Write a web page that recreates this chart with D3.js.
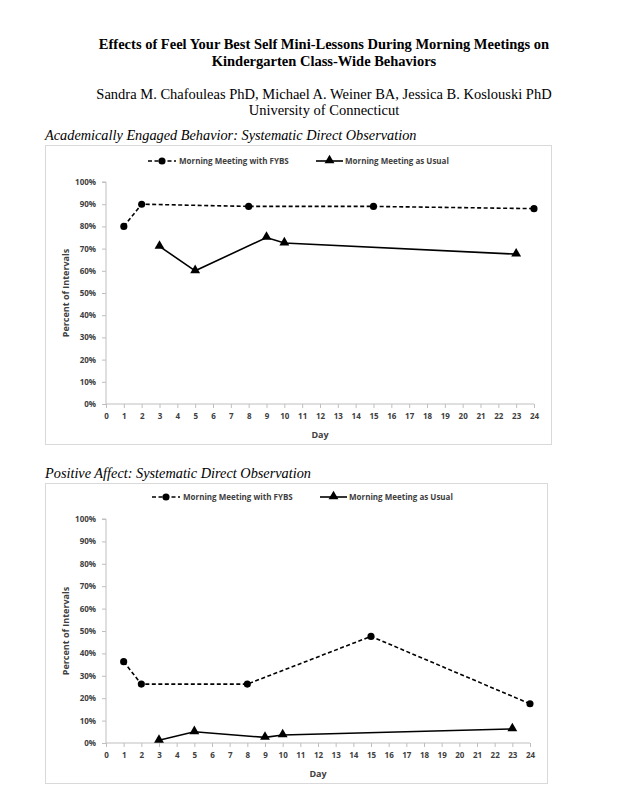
<!DOCTYPE html>
<html>
<head>
<meta charset="utf-8">
<script src="https://cdn.jsdelivr.net/npm/d3@7"></script>
<style>
  body { margin: 0; background: #fff; }
  svg { display: block; }
</style>
</head>
<body>
<div id="anchor-point"></div>
<script>
// data
const days_fybs_engaged = [1, 2, 8, 15, 24];
const vals_fybs_engaged = [80, 90, 89, 89, 88];
const days_usual_engaged = [3, 5, 9, 10, 23];
const vals_usual_engaged = [71, 60, 75, 72.5, 67.5];

const days_fybs_affect = [1, 2, 8, 15, 24];
const vals_fybs_affect = [36.3, 26.3, 26.3, 47.6, 17.5];
const days_usual_affect = [3, 5, 9, 10, 23];
const vals_usual_affect = [1.2, 5, 2.5, 3.6, 6.3];

const x_ticks = d3.range(0, 25); // 0..24
const y_ticks = [0, 10, 20, 30, 40, 50, 60, 70, 80, 90, 100];
const series_names = ["Morning Meeting with FYBS", "Morning Meeting as Usual"];

const width = 621, height = 805;
const grey = "#bfbfbf";
const label_color = "#404040";
const sans = "'Open Sans', Lato, sans-serif";
const serif = "'Liberation Serif', 'DejaVu Serif', serif";

const svg = d3.select("#anchor-point")
  .append("svg")
  .attr("width", width)
  .attr("height", height);

//// header text ////
const header = [
  { t: "Effects of Feel Your Best Self Mini-Lessons During Morning Meetings on", y: 49, w: "bold" },
  { t: "Kindergarten Class-Wide Behaviors", y: 66, w: "bold" },
  { t: "Sandra M. Chafouleas PhD, Michael A. Weiner BA, Jessica B. Koslouski PhD", y: 99, w: "normal" },
  { t: "University of Connecticut", y: 115, w: "normal" }
];
svg.selectAll(".head")
  .data(header)
  .enter()
  .append("text")
  .attr("class", "head")
  .attr("x", 324)
  .attr("y", d => d.y)
  .attr("text-anchor", "middle")
  .attr("font-family", serif)
  .attr("font-size", 14.5)
  .attr("font-weight", d => d.w)
  .attr("fill", "#000")
  .text(d => d.t);

//// one chart ////
function drawChart(opt) {
  const g = svg.append("g");

  g.append("text")
    .attr("x", 45)
    .attr("y", opt.titleY)
    .attr("font-family", serif)
    .attr("font-style", "italic")
    .attr("font-size", 14.3)
    .text(opt.title);

  // chart box
  g.append("rect")
    .attr("x", opt.box[0] + 0.5)
    .attr("y", opt.box[1] + 0.5)
    .attr("width", opt.box[2] - opt.box[0])
    .attr("height", opt.box[3] - opt.box[1])
    .attr("fill", "none")
    .attr("stroke", "#d9d9d9")
    .attr("stroke-width", 1);

  const x = d3.scaleLinear().domain([0, 24]).range([opt.x0, opt.x1]);
  const y = d3.scaleLinear().domain([0, 100]).range([opt.y0, opt.y1]);

  // y axis
  const yAxis = g.append("g")
    .attr("transform", `translate(${opt.x0},0)`)
    .call(d3.axisLeft(y).tickValues(y_ticks).tickSize(4).tickPadding(6).tickFormat(d => d + "%"));
  // x axis
  const xAxis = g.append("g")
    .attr("transform", `translate(0,${opt.y0})`)
    .call(d3.axisBottom(x).tickValues(x_ticks).tickSize(4).tickPadding(4));

  [yAxis, xAxis].forEach(a => {
    a.select(".domain").attr("stroke", grey);
    a.selectAll(".tick line").attr("stroke", grey);
    a.selectAll("text")
      .attr("font-family", sans)
      .attr("font-size", 8)
      .attr("font-weight", "bold")
      .attr("fill", label_color);
  });
  // plain domain lines without end caps
  yAxis.select(".domain").attr("d", `M-4,${opt.y1}H0V${opt.y0}`);
  xAxis.select(".domain").attr("d", `M${opt.x0},0H${opt.x1}`);
  xAxis.selectAll(".tick text").attr("dy", "0.9em");

  g.append("text")
    .attr("x", (opt.x0 + opt.x1) / 2)
    .attr("y", opt.y0 + 34)
    .attr("text-anchor", "middle")
    .attr("font-family", sans)
    .attr("font-size", 9)
    .attr("font-weight", "bold")
    .attr("fill", label_color)
    .text("Day");

  g.append("text")
    .attr("transform", `translate(69,${(opt.y0 + opt.y1) / 2}) rotate(-90)`)
    .attr("text-anchor", "middle")
    .attr("font-family", sans)
    .attr("font-size", 9)
    .attr("font-weight", "bold")
    .attr("fill", label_color)
    .text("Percent of Intervals");

  // lines
  const line = d3.line().x(d => x(d[0])).y(d => y(d[1]));
  const fybs = d3.zip(opt.fybsDays, opt.fybsVals);
  const usual = d3.zip(opt.usualDays, opt.usualVals);

  g.append("path")
    .datum(fybs)
    .attr("d", line)
    .attr("fill", "none")
    .attr("stroke", "#000")
    .attr("stroke-width", 1.6)
    .attr("stroke-dasharray", "4,2.5");
  g.append("path")
    .datum(usual)
    .attr("d", line)
    .attr("fill", "none")
    .attr("stroke", "#000")
    .attr("stroke-width", 1.6);

  const circ = d3.symbol().type(d3.symbolCircle).size(40);
  const tri = d3.symbol().type(d3.symbolTriangle).size(42);

  g.selectAll(".dot")
    .data(fybs)
    .enter()
    .append("path")
    .attr("class", "dot")
    .attr("d", circ)
    .attr("transform", d => `translate(${x(d[0])},${y(d[1])})`)
    .attr("fill", "#000");
  g.selectAll(".tri")
    .data(usual)
    .enter()
    .append("path")
    .attr("class", "tri")
    .attr("d", tri)
    .attr("transform", d => `translate(${x(d[0])},${y(d[1]) - 0.5})`)
    .attr("fill", "#000");

  // legend
  const ly = opt.legendY;
  const lg = g.append("g");
  lg.append("line")
    .attr("x1", opt.legendX[0]).attr("x2", opt.legendX[0] + 28)
    .attr("y1", ly).attr("y2", ly)
    .attr("stroke", "#000").attr("stroke-width", 1.6)
    .attr("stroke-dasharray", "4,2.5");
  lg.append("path")
    .attr("d", circ)
    .attr("transform", `translate(${opt.legendX[0] + 14},${ly})`);
  lg.append("text")
    .attr("x", opt.legendX[0] + 31)
    .attr("y", ly + 3)
    .attr("font-family", sans)
    .attr("font-size", 8)
    .attr("font-weight", "bold")
    .attr("fill", label_color)
    .text(series_names[0]);

  lg.append("line")
    .attr("x1", opt.legendX[1]).attr("x2", opt.legendX[1] + 27)
    .attr("y1", ly).attr("y2", ly)
    .attr("stroke", "#000").attr("stroke-width", 1.6);
  lg.append("path")
    .attr("d", tri)
    .attr("transform", `translate(${opt.legendX[1] + 13.5},${ly - 0.5})`);
  lg.append("text")
    .attr("x", opt.legendX[1] + 29)
    .attr("y", ly + 3)
    .attr("font-family", sans)
    .attr("font-size", 8)
    .attr("font-weight", "bold")
    .attr("fill", label_color)
    .text(series_names[1]);
}

drawChart({
  title: "Academically Engaged Behavior: Systematic Direct Observation",
  titleY: 140,
  box: [45, 145, 551, 444],
  x0: 106, x1: 534, y0: 404, y1: 182,
  legendY: 161, legendX: [148, 316],
  fybsDays: days_fybs_engaged, fybsVals: vals_fybs_engaged,
  usualDays: days_usual_engaged, usualVals: vals_usual_engaged
});

drawChart({
  title: "Positive Affect: Systematic Direct Observation",
  titleY: 478,
  box: [45, 483, 547, 783],
  x0: 106, x1: 530, y0: 743, y1: 519,
  legendY: 497, legendX: [152, 320],
  fybsDays: days_fybs_affect, fybsVals: vals_fybs_affect,
  usualDays: days_usual_affect, usualVals: vals_usual_affect
});
</script>
</body>
</html>
